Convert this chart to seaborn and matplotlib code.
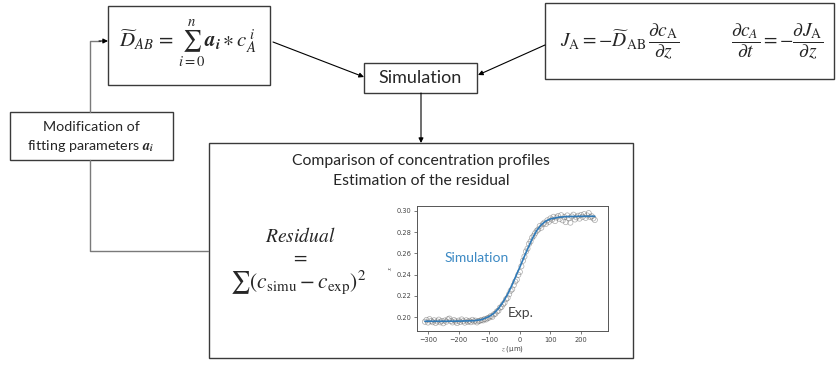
import matplotlib
matplotlib.use("Agg")
import matplotlib.pyplot as plt
from matplotlib.patches import Rectangle
import seaborn as sns
import pandas as pd

# Measured concentration profile (experiment) and simulated profile
z_exp = [-310, -305, -300, -295, -290, -285, -280, -275, -270, -265, -260, -255,
         -250, -245, -240, -235, -230, -225, -220, -215, -210, -205, -200, -195,
         -190, -185, -180, -175, -170, -165, -160, -155, -150, -145, -140, -135,
         -130, -125, -120, -115, -110, -105, -100, -95, -90, -85, -80, -75,
         -70, -65, -60, -55, -50, -45, -40, -35, -30, -25, -20, -15,
         -10, -5, 0, 5, 10, 15, 20, 25, 30, 35, 40, 45,
         50, 55, 60, 65, 70, 75, 80, 85, 90, 95, 100, 105,
         110, 115, 120, 125, 130, 135, 140, 145, 150, 155, 160, 165,
         170, 175, 180, 185, 190, 195, 200, 205, 210, 215, 220, 225,
         230, 235, 240, 245]
c_exp = [0.1955, 0.1972, 0.1948, 0.1980, 0.1962, 0.1951, 0.1969, 0.1944, 0.1958, 0.1975, 0.1950, 0.1963,
         0.1941, 0.1967, 0.1956, 0.1978, 0.1985, 0.1962, 0.1949, 0.1971, 0.1958, 0.1943, 0.1966, 0.1953,
         0.1977, 0.1960, 0.1947, 0.1969, 0.1955, 0.1964, 0.1951, 0.1973, 0.1958, 0.1966, 0.1949, 0.1962,
         0.1965, 0.1972, 0.1968, 0.1981, 0.1977, 0.1990, 0.1995, 0.2008, 0.2002, 0.2025, 0.2031, 0.2052,
         0.2060, 0.2088, 0.2095, 0.2120, 0.2135, 0.2168, 0.2180, 0.2215, 0.2248, 0.2262, 0.2300, 0.2335,
         0.2352, 0.2398, 0.2425, 0.2478, 0.2530, 0.2570, 0.2618, 0.2645, 0.2690, 0.2712, 0.2748, 0.2765,
         0.2790, 0.2812, 0.2825, 0.2858, 0.2842, 0.2875, 0.2890, 0.2878, 0.2912, 0.2898, 0.2930, 0.2918,
         0.2945, 0.2905, 0.2938, 0.2952, 0.2925, 0.2960, 0.2912, 0.2943, 0.2895, 0.2958, 0.2930, 0.2890,
         0.2948, 0.2965, 0.2920, 0.2940, 0.2955, 0.2928, 0.2962, 0.2945, 0.2970, 0.2935, 0.2958, 0.2980,
         0.2942, 0.2950, 0.2930, 0.2915]

z_sim = [-310, -250, -200, -150, -125, -100, -85, -70, -55, -40, -25, -10,
         0, 10, 25, 40, 55, 70, 85, 100, 125, 150, 200, 245]
c_sim = [0.1960, 0.1960, 0.1961, 0.1965, 0.1975, 0.2005, 0.2035, 0.2080, 0.2140, 0.2215, 0.2305, 0.2405,
         0.2470, 0.2540, 0.2640, 0.2735, 0.2815, 0.2870, 0.2905, 0.2925, 0.2940, 0.2947, 0.2950, 0.2950]

x_ticks = [-300, -200, -100, 0, 100, 200]
y_ticks = [0.20, 0.22, 0.24, 0.26, 0.28, 0.30]

sns.set_theme(style="white")
plt.rcParams["font.family"] = ["Lato", "DejaVu Sans"]
plt.rcParams["mathtext.fontset"] = "stix"

W, H = 837, 365
fig = plt.figure(figsize=(W / 100, H / 100), dpi=100)

# Canvas axes in pixel units for the flow diagram
ax = fig.add_axes([0, 0, 1, 1])
ax.set_xlim(0, W)
ax.set_ylim(H, 0)
ax.axis("off")

box_col = "#3a3a3a"
line_col = "#7a7a7a"


def box(x0, y0, x1, y1, ec=box_col):
    ax.add_patch(Rectangle((x0, y0), x1 - x0, y1 - y0, fill=False, ec=ec, lw=1.0))


def arrow(p0, p1, col="black"):
    ax.annotate("", xy=p1, xytext=p0,
                arrowprops=dict(arrowstyle="-|>", color=col, lw=0.8,
                                mutation_scale=7, shrinkA=0, shrinkB=0))


# Boxes
box(108, 6, 270, 85)
box(545, 3, 834, 79)
box(364, 63, 477, 93)
box(209, 143, 633, 358)
box(10, 112, 173, 160)

# Connectors
arrow((273, 42), (364, 77))
arrow((545, 45), (478, 75))
arrow((421, 93), (421, 143))
ax.plot([208, 90, 90], [251, 251, 160], color=line_col, lw=1.0)
ax.plot([90, 90, 100], [112, 41, 41], color=line_col, lw=1.0)
arrow((99, 41), (108, 41))

# Box texts
ax.text(188, 44, r"$\widetilde{D}_{AB}\,=\,\sum_{i=0}^{n}\boldsymbol{a}_{\boldsymbol{i}}\ast c_A^{\,i}$",
        ha="center", va="center", fontsize=15)
ax.text(620, 42, r"$J_{\mathrm{A}}=-\widetilde{D}_{\mathrm{AB}}\,\dfrac{\partial c_{\mathrm{A}}}{\partial z}$",
        ha="center", va="center", fontsize=14)
ax.text(777, 42, r"$\dfrac{\partial c_{A}}{\partial t}=-\dfrac{\partial J_{\mathrm{A}}}{\partial z}$",
        ha="center", va="center", fontsize=14)
ax.text(420, 78, "Simulation", ha="center", va="center", fontsize=13)
ax.text(421, 161, "Comparison of concentration profiles", ha="center", va="center", fontsize=11.3)
ax.text(421, 181, "Estimation of the residual", ha="center", va="center", fontsize=11.3)
ax.text(91, 127, "Modification of", ha="center", va="center", fontsize=10.3)
ax.text(91, 146, r"fitting parameters $\boldsymbol{a}_{\boldsymbol{i}}$", ha="center", va="center", fontsize=10.3)

ax.text(300, 236, r"$\mathit{Residual}$", ha="center", va="center", fontsize=14)
ax.text(300, 257, r"$=$", ha="center", va="center", fontsize=14)
ax.text(298, 282, r"$\sum\left(c_{\mathrm{simu}}-c_{\mathrm{exp}}\right)^{2}$",
        ha="center", va="center", fontsize=15.5)

# Inset plot: concentration profiles
ix0, iy0, ix1, iy1 = 417, 206, 608, 331
iax = fig.add_axes([ix0 / W, 1 - iy1 / H, (ix1 - ix0) / W, (iy1 - iy0) / H])
exp_df = pd.DataFrame({"z": z_exp, "c": c_exp})
sim_df = pd.DataFrame({"z": z_sim, "c": c_sim})
sns.scatterplot(data=exp_df, x="z", y="c", ax=iax, marker="o", s=14,
                facecolors="none", edgecolor="#666666", linewidth=0.5, alpha=0.55)
sns.lineplot(data=sim_df, x="z", y="c", ax=iax, color="#2f7ab8", lw=1.2)

iax.set_xlim(-336, 288)
iax.set_ylim(0.1868, 0.3047)
iax.set_xticks(x_ticks)
iax.set_yticks(y_ticks)
iax.set_xticklabels([f"{t:d}".replace("-", "\u2212") for t in x_ticks], family="DejaVu Sans")
iax.set_yticklabels([f"{t:.2f}" for t in y_ticks], family="DejaVu Sans")
iax.tick_params(labelsize=4.8, length=2.5, width=0.5, colors="#444444", pad=1.5,
                left=True, bottom=True)
for sp in iax.spines.values():
    sp.set_color("#555555")
    sp.set_linewidth(0.7)
iax.set_xlabel(r"$z$ (μm)", fontsize=5, color="#444444", labelpad=1, family="DejaVu Sans")
iax.set_ylabel(r"$x$", fontsize=5, color="#444444", labelpad=2)
iax.text(-140, 0.2557, "Simulation", color="#3d8ac4", fontsize=10,
         ha="center", va="center")
iax.text(2, 0.2038, "Exp.", color="#444444", fontsize=10, ha="center", va="center")

fig.savefig("out.png", dpi=100)
